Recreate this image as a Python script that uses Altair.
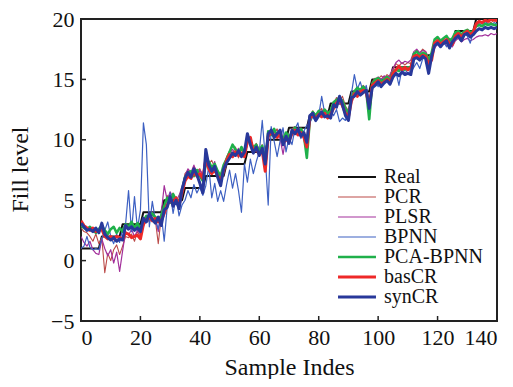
import altair as alt
import pandas as pd

sample = list(range(141))

real = [1, 1, 1, 1, 1, 1, 1, 2, 2, 2, 2, 2, 2, 2, 3, 3, 3, 3, 3, 3, 3,
        4, 4, 4, 4, 4, 4, 4, 5, 5, 5, 5, 5, 5, 5, 6, 6, 6, 6, 6, 6, 6,
        7, 7, 7, 7, 7, 7, 7, 8, 8, 8, 8, 8, 8, 8, 9, 9, 9, 9, 9, 9, 9,
        10, 10, 10, 10, 10, 10, 10, 11, 11, 11, 11, 11, 11, 11,
        12, 12, 12, 12, 12, 12, 12, 13, 13, 13, 13, 13, 13, 13,
        14, 14, 14, 14, 14, 14, 14, 15, 15, 15, 15, 15, 15, 15,
        16, 16, 16, 16, 16, 16, 16, 17, 17, 17, 17, 17, 17, 17,
        18, 18, 18, 18, 18, 18, 18, 19, 19, 19, 19, 19, 19, 19,
        20, 20, 20, 20, 20, 20, 20, 20]

pcr = [2.7, 2.4, 2.3, 2.0, 1.6, 2.2, 1.4, 1.9, -1.0, 0.6,
       0.0, 0.9, 1.3, 0.5, 1.2, 2.0, 1.9, 2.2, 1.6, 2.4,
       2.0, 2.8, 3.5, 3.2, 3.8, 3.4, 1.4, 3.6, 4.1, 5.4,
       4.9, 5.6, 4.8, 5.1, 5.9, 7.2, 7.5, 7.1, 7.8, 7.4,
       7.6, 7.0, 8.6, 8.0, 8.3, 7.7, 7.3, 6.9, 7.8, 8.6,
       9.1, 8.9, 9.4, 8.5, 9.2, 8.8, 10.2, 10.0, 9.4, 9.7,
       9.2, 9.6, 7.9, 10.4, 10.9, 10.6, 10.9, 10.3, 9.5, 10.5,
       10.1, 10.9, 11.1, 10.6, 11.0, 10.5, 9.8, 11.9, 12.4, 12.0,
       12.3, 12.6, 12.0, 12.4, 12.2, 13.0, 13.5, 13.2, 13.6, 12.8,
       12.4, 13.6, 14.1, 13.8, 14.2, 14.5, 14.2, 13.0, 14.8, 15.1,
       15.0, 15.3, 15.1, 15.4, 15.2, 15.8, 16.3, 16.1, 16.4, 16.2,
       16.4, 16.3, 17.1, 17.4, 17.2, 17.5, 17.3, 16.8, 17.0, 17.9,
       18.4, 18.1, 18.3, 18.0, 18.4, 18.1, 18.7, 19.0, 18.6, 18.9,
       19.1, 18.8, 19.0, 19.7, 19.9, 19.6, 19.9, 19.8, 19.7, 19.9,
       19.8]

plsr = [2.0, 1.5, 1.2, 1.6, 0.9, 0.6, 0.5, 1.8, 1.0, 0.4,
        0.9, -0.2, 0.7, -0.9, 0.8, 2.4, 2.1, 2.6, 2.0, 2.5,
        2.2, 3.0, 3.7, 3.3, 4.0, 3.5, 2.4, 3.9, 6.2, 5.0,
        5.7, 5.2, 4.9, 5.4, 6.1, 7.0, 7.6, 7.3, 7.9, 7.2,
        7.5, 7.1, 8.8, 8.1, 7.6, 8.2, 6.8, 7.1, 7.7, 8.4,
        8.9, 9.2, 8.8, 9.3, 8.6, 9.1, 10.0, 9.8, 9.1, 9.5,
        9.0, 9.4, 8.2, 10.2, 10.7, 10.3, 10.6, 10.1, 8.8, 10.2,
        9.8, 10.6, 10.9, 10.5, 10.8, 10.3, 9.6, 11.7, 12.2, 11.9,
        12.1, 12.4, 11.9, 12.2, 12.0, 12.8, 13.2, 13.0, 13.3, 12.5,
        12.1, 13.3, 13.9, 13.7, 14.0, 14.3, 14.0, 12.9, 14.7, 15.0,
        15.2, 15.0, 15.3, 15.1, 15.4, 15.9, 16.4, 16.6, 16.3, 16.5,
        16.4, 16.6, 17.3, 17.5, 17.2, 17.4, 17.3, 16.7, 17.1, 17.6,
        17.9, 17.7, 18.0, 17.8, 17.9, 17.7, 18.2, 18.4, 18.1, 18.3,
        18.4, 18.2, 18.3, 18.5, 18.6, 18.6, 18.7, 18.6, 18.8, 18.7,
        18.8]

bpnn = [1.0, 1.2, 2.0, 1.1, 0.9, 1.0, 0.9, 1.8, 2.5, 3.2,
        2.0, 1.4, 2.2, 1.5, 2.6, 3.0, 5.8, 2.4, 5.3, 2.6,
        4.2, 11.4, 9.6, 2.8, 4.9, 3.4, 2.6, 3.9, 1.6, 4.4,
        5.6, 3.9, 5.3, 3.7, 4.6, 5.0, 5.8, 5.2, 6.3, 5.6,
        6.1, 5.4, 6.2, 7.8, 5.2, 6.4, 4.9, 5.8, 4.9, 6.3,
        7.5, 6.0, 7.2, 5.8, 4.0, 8.0, 6.5, 8.4, 7.2, 8.2,
        9.0, 11.6, 8.6, 4.6, 11.1, 9.9, 8.6, 9.9, 11.0, 9.0,
        10.2, 9.6, 10.9, 11.4, 10.1, 10.7, 11.2, 11.4, 11.9, 11.5,
        12.0, 13.6, 12.2, 11.8, 12.4, 12.0, 12.5, 11.5, 11.8, 11.6,
        12.3, 13.8, 15.4, 14.2, 14.8, 13.9, 14.5, 13.2, 14.2, 14.9,
        14.4, 15.0, 14.7, 15.1, 14.6, 15.3, 15.6, 14.5, 15.9, 15.5,
        15.8, 15.6, 16.0, 16.4, 15.9, 16.7, 16.9, 16.2, 17.0, 17.8,
        18.1, 17.8, 18.2, 17.7, 18.0, 18.3, 18.6, 18.9, 18.5, 18.8,
        18.6, 18.0, 18.9, 19.5, 19.7, 19.4, 19.8, 19.6, 19.5, 19.7,
        19.6]

pca_bpnn = [2.9, 2.7, 2.6, 2.8, 2.5, 2.3, 2.6, 2.9, 2.5, 2.2,
            2.6, 2.8, 2.3, 2.7, 2.4, 3.0, 2.8, 3.2, 2.7, 3.1,
            2.6, 3.3, 3.7, 3.5, 3.9, 3.6, 3.4, 3.7, 4.5, 5.2,
            4.8, 5.5, 5.0, 4.8, 5.8, 6.9, 7.2, 7.4, 7.0, 7.5,
            7.0, 6.6, 8.0, 8.2, 7.7, 8.0, 7.4, 7.0, 7.9, 8.4,
            9.0, 9.6, 9.2, 8.8, 9.4, 8.9, 9.8, 9.9, 9.3, 9.6,
            9.0, 9.5, 7.8, 10.7, 10.4, 10.9, 10.3, 10.4, 10.0, 10.6,
            10.2, 10.6, 11.0, 10.7, 10.9, 10.4, 8.5, 11.6, 12.3, 12.0,
            12.4, 12.1, 12.5, 12.2, 12.4, 13.1, 13.3, 13.5, 13.2, 12.6,
            12.2, 13.4, 14.0, 14.3, 14.1, 14.4, 14.0, 11.7, 14.6, 15.0,
            15.1, 14.8, 15.0, 15.2, 14.9, 15.6, 15.8, 15.7, 16.0, 15.8,
            16.0, 15.9, 17.1, 17.3, 17.0, 17.2, 17.1, 16.6, 17.2, 18.3,
            18.5, 18.2, 18.4, 18.6, 18.2, 18.4, 18.9, 19.0, 18.7, 19.0,
            19.1, 18.9, 19.0, 19.4, 19.5, 19.4, 19.6, 19.5, 19.6, 19.5,
            19.5]

bas_cr = [3.3, 2.9, 2.7, 2.5, 2.7, 2.4, 2.5, 2.6, 2.0, 1.8,
          2.0, 1.8, 2.0, 1.9, 1.8, 2.3, 2.2, 1.9, 2.0, 2.1,
          1.8, 3.0, 3.4, 3.6, 3.3, 3.5, 3.2, 3.3, 3.9, 4.6,
          5.0, 4.7, 5.2, 4.6, 5.6, 6.6, 7.0, 6.8, 7.3, 7.0,
          7.2, 6.8, 8.4, 7.6, 7.2, 7.5, 7.0, 6.6, 7.4, 8.3,
          8.8, 8.6, 9.0, 8.7, 8.9, 8.6, 9.9, 10.2, 9.0, 9.2,
          8.8, 9.1, 7.4, 10.3, 10.6, 10.4, 10.2, 10.6, 9.8, 10.0,
          9.9, 10.5, 10.8, 10.4, 10.6, 10.2, 9.4, 11.8, 12.0, 11.8,
          12.1, 11.9, 12.2, 11.8, 12.1, 12.6, 13.0, 13.4, 12.8, 12.2,
          11.9, 13.2, 13.8, 13.6, 14.0, 14.1, 13.9, 12.8, 14.5, 14.7,
          14.9, 14.6, 14.8, 15.0, 14.7, 15.5, 15.8, 16.1, 15.8, 16.0,
          15.8, 16.0, 16.9, 17.0, 16.8, 17.0, 16.9, 16.3, 16.6, 18.0,
          18.2, 17.9, 18.1, 18.3, 18.0, 17.9, 18.6, 18.8, 18.5, 18.8,
          19.0, 18.7, 18.9, 19.6, 19.8, 19.7, 19.9, 19.8, 20.0, 19.9,
          19.9]

syn_cr = [3.1, 2.8, 2.5, 2.6, 2.4, 2.7, 2.3, 3.1, 2.2, 1.9,
          1.7, 1.9, 1.6, 1.8, 1.7, 2.9, 2.6, 2.8, 2.5, 2.7,
          2.4, 3.5, 3.2, 3.9, 3.4, 3.1, 3.6, 2.9, 4.2, 4.4,
          5.3, 4.5, 5.0, 4.3, 5.9, 6.8, 7.3, 6.9, 7.6, 7.1,
          6.4, 5.6, 9.2, 7.9, 7.4, 7.8, 6.9, 6.2, 7.6, 8.1,
          8.5, 8.9, 8.7, 9.1, 8.6, 9.0, 10.5, 9.6, 8.9, 9.4,
          8.7, 9.3, 8.0, 10.5, 10.8, 10.2, 10.5, 10.8, 9.6, 10.3,
          9.7, 10.8, 10.5, 10.9, 10.3, 10.6, 9.8, 12.0, 12.2, 11.6,
          12.0, 12.3, 11.9, 12.0, 11.8, 12.9, 12.7, 13.6, 12.9, 12.0,
          11.6, 13.5, 13.6, 14.0, 13.7, 13.9, 14.1, 12.6, 14.3, 14.5,
          14.8, 14.4, 14.7, 14.9, 14.6, 15.2, 15.5, 15.3, 15.6, 15.4,
          15.5, 15.4, 16.7, 16.8, 16.6, 16.9, 16.7, 15.5, 16.9, 17.8,
          18.0, 17.7, 18.0, 18.2, 17.6, 18.1, 18.4, 18.6, 18.2, 18.7,
          18.8, 18.5, 18.7, 19.0, 19.2, 19.1, 19.3, 19.2, 19.3, 19.2,
          19.3]

series_names = ["Real", "PCR", "PLSR", "BPNN", "PCA-BPNN", "basCR", "synCR"]
series_values = [real, pcr, plsr, bpnn, pca_bpnn, bas_cr, syn_cr]
series_colors = ["#111111", "#bb4a48", "#a3309b", "#3d60c2", "#1fb04a", "#ee2828", "#28389a"]
series_widths = [2.0, 1.1, 1.2, 1.2, 2.6, 3.0, 3.0]

x_ticks = [0, 20, 40, 60, 80, 100, 120, 140]
y_ticks = [-5, 0, 5, 10, 15, 20]

rows = []
for name, vals in zip(series_names, series_values):
    for s, v in zip(sample, vals):
        rows.append({"sample": s, "value": v, "series": name})
df = pd.DataFrame(rows)

W, H = 416, 302
FONT = "Liberation Serif"

xscale = alt.Scale(domain=[0, 140], nice=False, zero=False)
yscale = alt.Scale(domain=[-5, 20], nice=False, zero=False)

x_axis = alt.Axis(values=x_ticks, title="Sample Indes", tickSize=0, domain=False,
                  grid=False, labelPadding=6, titleY=53, titleBaseline="alphabetic")
y_axis = alt.Axis(values=y_ticks, title="Fill level", tickSize=0, domain=False,
                  grid=False, labelPadding=7, titleX=-54, titleY=150,
                  titleAlign="center", titleBaseline="alphabetic")

lines = alt.Chart(df).mark_line(clip=True, strokeJoin="round").encode(
    x=alt.X("sample:Q", scale=xscale, axis=x_axis, title="Sample Indes"),
    y=alt.Y("value:Q", scale=yscale, axis=y_axis, title="Fill level"),
    color=alt.Color("series:N", scale=alt.Scale(domain=series_names, range=series_colors),
                    legend=alt.Legend(title=None, orient="none", legendX=266, legendY=148,
                                      symbolType="M-2.45,0L2.45,0", symbolSize=240,
                                      symbolStrokeWidth=2, labelFont=FONT, labelFontSize=20,
                                      labelColor="#111", labelOffset=17, rowPadding=0,
                                      padding=0)),
    strokeWidth=alt.StrokeWidth("series:N",
                                scale=alt.Scale(type="ordinal", domain=series_names,
                                                range=series_widths),
                                legend=None),
)

xt = alt.Chart(pd.DataFrame({"t": x_ticks})).mark_rule(color="#222", strokeWidth=1.5).encode(
    x=alt.X("t:Q", scale=xscale, axis=x_axis, title="Sample Indes"),
    y=alt.value(H), y2=alt.value(H - 5))

yt = alt.Chart(pd.DataFrame({"t": y_ticks})).mark_rule(color="#222", strokeWidth=1.5).encode(
    y=alt.Y("t:Q", scale=yscale, axis=y_axis, title="Fill level"),
    x=alt.value(0), x2=alt.value(5))

chart = alt.layer(lines, xt, yt).properties(
    width=W, height=H,
    autosize=alt.AutoSizeParams(type="none"),
    padding={"left": 73, "top": 11, "right": 8, "bottom": 58},
).configure_view(stroke="#222", strokeWidth=2).configure_axis(
    labelFont=FONT, labelFontSize=22, labelColor="#111",
    titleFont=FONT, titleFontSize=24, titleFontWeight="normal", titleColor="#111",
)

chart.save("out.html", embed_options={"renderer": "svg", "actions": False})
